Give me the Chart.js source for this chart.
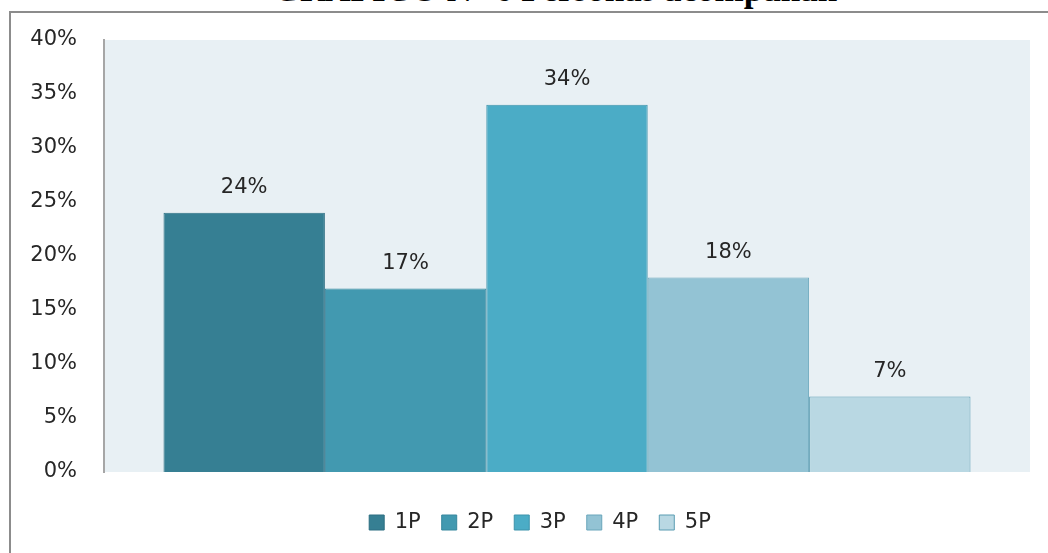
<!DOCTYPE html>
<html>
<head>
<meta charset="utf-8">
<script src="https://cdn.jsdelivr.net/npm/chart.js@4/dist/chart.umd.min.js"></script>
<style>
  html, body { margin: 0; padding: 0; background: #fff; }
  #wrap { position: relative; width: 1048px; height: 553px; overflow: hidden; }
  #titulo {
    position: absolute; left: 31px; width: 1048px; top: -30px; text-align: center;
    font: bold 35px "Liberation Serif", "Times New Roman", serif; color: #000;
    white-space: nowrap;
  }
  #marco {
    position: absolute; left: 9px; top: 11px; width: 1100px; height: 600px;
    border-top: 2px solid #8c8c8c; border-left: 2px solid #8c8c8c;
  }
  #chartBox { position: absolute; left: 0; top: 0; width: 1048px; height: 553px; }
</style>
</head>
<body>
<div id="wrap">
  <div id="titulo">GRÁFICO N° 6 Personas acompañan</div>
  <div id="marco"></div>
  <div id="chartBox"><canvas id="barChart" width="1048" height="553"></canvas></div>
</div>
<script>
(function () {
    var categorias = [''];
    var series = ['1P', '2P', '3P', '4P', '5P'];
    var valores = [24, 17, 34, 18, 7];
    var ticksY = [0, 5, 10, 15, 20, 25, 30, 35, 40];

    var colores = ['#367f93', '#4299b0', '#4bacc6', '#93c3d4', '#b9d8e3'];
    var bordes = ['#2c6f82', '#37879e', '#3c93ab', '#6aa6bb', '#5a9cb2'];
    var fuente = '"DejaVu Sans", sans-serif';

    var fondoPlot = {
        id: 'fondoPlot',
        beforeDraw: function (chart) {
            var a = chart.chartArea, ctx = chart.ctx;
            ctx.save();
            ctx.fillStyle = '#e8f0f4';
            ctx.fillRect(a.left, a.top, a.right - a.left, a.bottom - a.top);
            ctx.restore();
        }
    };

    // la leyenda queda centrada bajo el área del gráfico, no en todo el lienzo
    var moverLeyenda = {
        id: 'moverLeyenda',
        afterLayout: function (chart) {
            if (chart.legend) { chart.legend.left += 50; }
        }
    };

    var etiquetas = {
        id: 'etiquetas',
        afterDatasetsDraw: function (chart) {
            var ctx = chart.ctx;
            ctx.save();
            ctx.font = '21px ' + fuente;
            ctx.fillStyle = '#262626';
            ctx.textAlign = 'center';
            ctx.textBaseline = 'middle';
            chart.data.datasets.forEach(function (ds, i) {
                var bar = chart.getDatasetMeta(i).data[0];
                ctx.fillText(ds.data[0] + '%', bar.x, bar.y - 25);
            });
            ctx.restore();
        }
    };

    var datasets = series.map(function (nombre, i) {
        return {
            label: nombre,
            data: [valores[i]],
            backgroundColor: colores[i],
            borderColor: bordes[i],
            borderWidth: 1,
            barPercentage: 1,
            categoryPercentage: 0.8715
        };
    });

    var ctx = document.getElementById('barChart').getContext('2d');
    new Chart(ctx, {
        type: 'bar',
        data: { labels: categorias, datasets: datasets },
        options: {
            responsive: false,
            animation: false,
            events: [],
            layout: { padding: { top: 40, right: 18, left: 0, bottom: 10 } },
            scales: {
                x: {
                    afterFit: function (scale) { scale.height = 19; },
                    grid: { display: false, drawTicks: false },
                    border: { display: false },
                    ticks: { display: false }
                },
                y: {
                    min: 0,
                    max: 40,
                    afterFit: function (scale) { scale.width = 104; },
                    afterBuildTicks: function (scale) {
                        scale.ticks = ticksY.map(function (v) { return { value: v }; });
                    },
                    grid: { display: false, drawTicks: false },
                    border: { display: true, color: '#a6a6a6', width: 2 },
                    ticks: {
                        padding: 27,
                        color: '#262626',
                        font: { size: 21, family: fuente },
                        callback: function (v) { return v + '%'; }
                    }
                }
            },
            plugins: {
                legend: {
                    position: 'bottom',
                    labels: {
                        boxWidth: 15,
                        boxHeight: 15,
                        padding: 21,
                        color: '#262626',
                        font: { size: 21, family: fuente }
                    }
                },
                tooltip: { enabled: false }
            }
        },
        plugins: [fondoPlot, moverLeyenda, etiquetas]
    });
})();
</script>
</body>
</html>
